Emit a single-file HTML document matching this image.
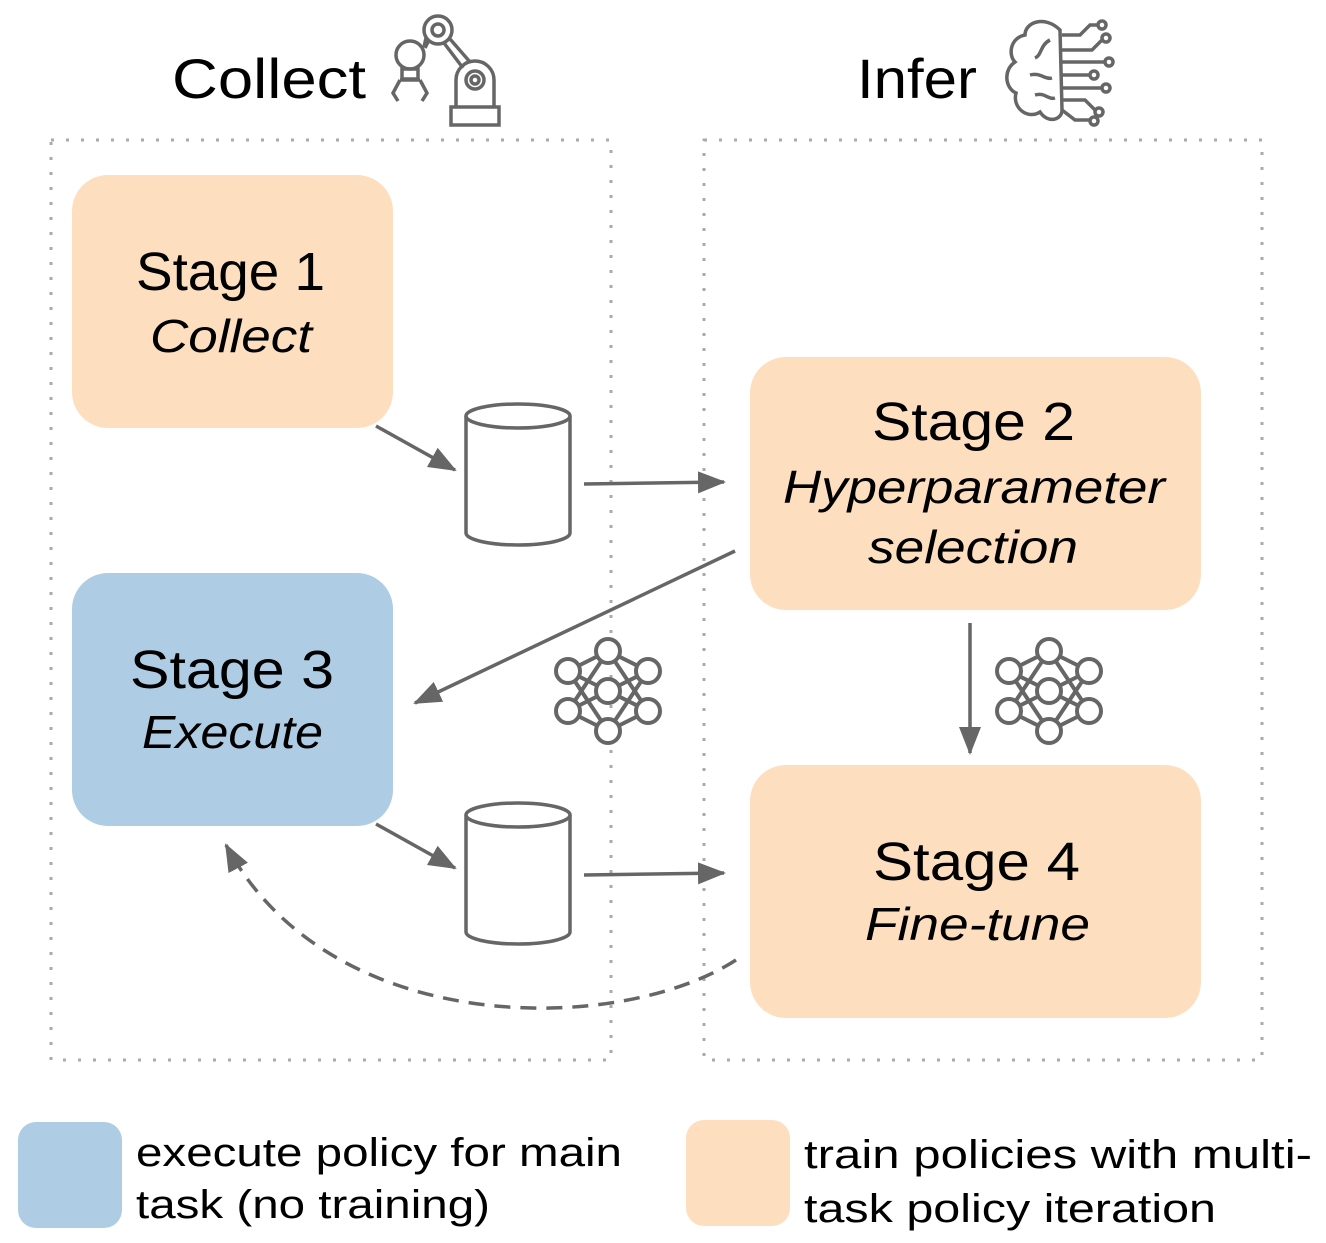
<!DOCTYPE html>
<html><head><meta charset="utf-8"><style>
html,body{margin:0;padding:0;background:#fff}
svg{display:block}
text{font-family:"Liberation Sans",sans-serif;fill:#000}
</style></head><body>
<svg width="1326" height="1243" viewBox="0 0 1326 1243" xmlns="http://www.w3.org/2000/svg">
<defs>
<marker id="ah" markerWidth="10" markerHeight="10" refX="8" refY="5" orient="auto" markerUnits="userSpaceOnUse" viewBox="0 0 10 10">
<path d="M0,0 L10,5 L0,10 z" fill="#666"/>
</marker>
<marker id="ah2" markerWidth="28" markerHeight="22" refX="26" refY="11" orient="auto" markerUnits="userSpaceOnUse">
<path d="M0,0 L28,11 L0,22 z" fill="#666"/>
</marker>
<g id="nn" fill="none" stroke="#666" stroke-width="4">
<line x1="568" y1="671" x2="608" y2="651"/><line x1="568" y1="671" x2="608" y2="691"/><line x1="568" y1="671" x2="608" y2="731"/>
<line x1="568" y1="711" x2="608" y2="651"/><line x1="568" y1="711" x2="608" y2="691"/><line x1="568" y1="711" x2="608" y2="731"/>
<line x1="648" y1="671" x2="608" y2="651"/><line x1="648" y1="671" x2="608" y2="691"/><line x1="648" y1="671" x2="608" y2="731"/>
<line x1="648" y1="711" x2="608" y2="651"/><line x1="648" y1="711" x2="608" y2="691"/><line x1="648" y1="711" x2="608" y2="731"/>
<circle cx="568" cy="671" r="12" fill="#fff"/><circle cx="568" cy="711" r="12" fill="#fff"/>
<circle cx="608" cy="651" r="12" fill="#fff"/><circle cx="608" cy="691" r="12" fill="#fff"/><circle cx="608" cy="731" r="12" fill="#fff"/>
<circle cx="648" cy="671" r="12" fill="#fff"/><circle cx="648" cy="711" r="12" fill="#fff"/>
</g>
</defs>

<!-- dotted containers -->
<rect x="51" y="140" width="560" height="920" fill="none" stroke="#aaa" stroke-width="3" stroke-dasharray="3 12"/>
<rect x="704" y="140" width="558" height="920" fill="none" stroke="#aaa" stroke-width="3" stroke-dasharray="3 12"/>

<!-- titles -->
<text x="172" y="98" font-size="56" textLength="194" lengthAdjust="spacingAndGlyphs">Collect</text>
<text x="857" y="98" font-size="56" textLength="120" lengthAdjust="spacingAndGlyphs">Infer</text>

<!-- robot arm icon -->
<g fill="none" stroke="#666" stroke-width="3.5">
<rect x="451" y="107" width="48" height="18"/>
<path d="M456,107 V80 A19,19 0 0 1 494,80 V107"/>
<circle cx="475" cy="80" r="9"/><circle cx="475" cy="80" r="4"/>
<circle cx="438" cy="30" r="14"/><circle cx="438" cy="30" r="6"/>
<circle cx="410" cy="55" r="14"/>
<line x1="424" y1="47" x2="426" y2="38"/><line x1="425" y1="48" x2="429" y2="40"/>
<line x1="444" y1="43" x2="463" y2="68"/><line x1="450" y1="39" x2="470" y2="62"/>
<rect x="402" y="69" width="16" height="10"/>
<path d="M400,80 H420 M400,80 L393,93 L398,101 M420,80 L427,93 L422,101"/>
</g>

<!-- brain icon -->
<g fill="none" stroke="#666" stroke-width="3.5">
<path d="M1060,30 C1045,15 1025,22 1025,35 C1010,38 1008,55 1015,62 C1003,70 1005,88 1016,93 C1012,108 1028,120 1040,112 C1048,124 1062,120 1062,110 Z"/>
<path d="M1050,40 C1040,45 1042,55 1035,58 M1030,75 C1040,72 1045,80 1052,78 M1035,95 C1045,92 1048,100 1055,98"/>
<path d="M1062,35 H1080 L1090,25 H1098 M1062,50 H1092 L1102,40 M1062,62 H1105 M1062,75 H1090 M1062,88 H1102 M1062,100 H1085 L1095,110 M1062,110 L1075,120 H1090"/>
<circle cx="1102" cy="25" r="4"/><circle cx="1106" cy="38" r="4"/><circle cx="1109" cy="62" r="4"/><circle cx="1094" cy="75" r="4"/><circle cx="1106" cy="88" r="4"/><circle cx="1099" cy="112" r="4"/><circle cx="1094" cy="121" r="4"/><circle cx="1092" cy="6" r="0"/>
</g>

<!-- stage boxes -->
<rect x="72" y="175" width="321" height="253" rx="36" fill="#fddfc0"/>
<rect x="72" y="573" width="321" height="253" rx="36" fill="#aecce3"/>
<rect x="750" y="357" width="451" height="253" rx="36" fill="#fddfc0"/>
<rect x="750" y="765" width="451" height="253" rx="36" fill="#fddfc0"/>

<text x="136" y="290" font-size="54" textLength="189" lengthAdjust="spacingAndGlyphs">Stage 1</text>
<text x="150" y="352" font-size="46" font-style="italic" textLength="162" lengthAdjust="spacingAndGlyphs">Collect</text>
<text x="872" y="440" font-size="54" textLength="203" lengthAdjust="spacingAndGlyphs">Stage 2</text>
<text x="783" y="503" font-size="46" font-style="italic" textLength="382" lengthAdjust="spacingAndGlyphs">Hyperparameter</text>
<text x="868" y="563" font-size="46" font-style="italic" textLength="210" lengthAdjust="spacingAndGlyphs">selection</text>
<text x="130" y="688" font-size="54" textLength="204" lengthAdjust="spacingAndGlyphs">Stage 3</text>
<text x="142" y="748" font-size="46" font-style="italic" textLength="181" lengthAdjust="spacingAndGlyphs">Execute</text>
<text x="873" y="880" font-size="54" textLength="207" lengthAdjust="spacingAndGlyphs">Stage 4</text>
<text x="865" y="940" font-size="46" font-style="italic" textLength="225" lengthAdjust="spacingAndGlyphs">Fine-tune</text>

<!-- cylinders -->
<g fill="#fff" stroke="#666" stroke-width="3.5">
<path d="M466,416 V533 A52,12 0 0 0 570,533 V416"/>
<ellipse cx="518" cy="416" rx="52" ry="12"/>
<path d="M466,815 V932 A52,12 0 0 0 570,932 V815"/>
<ellipse cx="518" cy="815" rx="52" ry="12"/>
</g>

<!-- arrows -->
<g stroke="#666" stroke-width="3.5" fill="none">
<line x1="376" y1="426" x2="455" y2="470" marker-end="url(#ah2)"/>
<line x1="584" y1="484" x2="724" y2="482" marker-end="url(#ah2)"/>
<line x1="735" y1="551" x2="415" y2="703" marker-end="url(#ah2)"/>
<line x1="970" y1="623" x2="970" y2="753" marker-end="url(#ah2)"/>
<line x1="376" y1="824" x2="455" y2="868" marker-end="url(#ah2)"/>
<line x1="584" y1="875" x2="724" y2="873" marker-end="url(#ah2)"/>
<path d="M736,960 C620,1035 330,1040 226,845" stroke-dasharray="16 10" marker-end="url(#ah2)"/>
</g>

<use href="#nn"/>
<use href="#nn" x="441"/>

<!-- legend -->
<rect x="18" y="1122" width="104" height="106" rx="18" fill="#aecce3"/>
<rect x="686" y="1120" width="104" height="106" rx="18" fill="#fddfc0"/>
<text x="136" y="1166" font-size="40" textLength="486" lengthAdjust="spacingAndGlyphs">execute policy for main</text>
<text x="136" y="1218" font-size="40" textLength="354" lengthAdjust="spacingAndGlyphs">task (no training)</text>
<text x="804" y="1168" font-size="40" textLength="508" lengthAdjust="spacingAndGlyphs">train policies with multi-</text>
<text x="804" y="1222" font-size="40" textLength="412" lengthAdjust="spacingAndGlyphs">task policy iteration</text>
</svg>
</body></html>
